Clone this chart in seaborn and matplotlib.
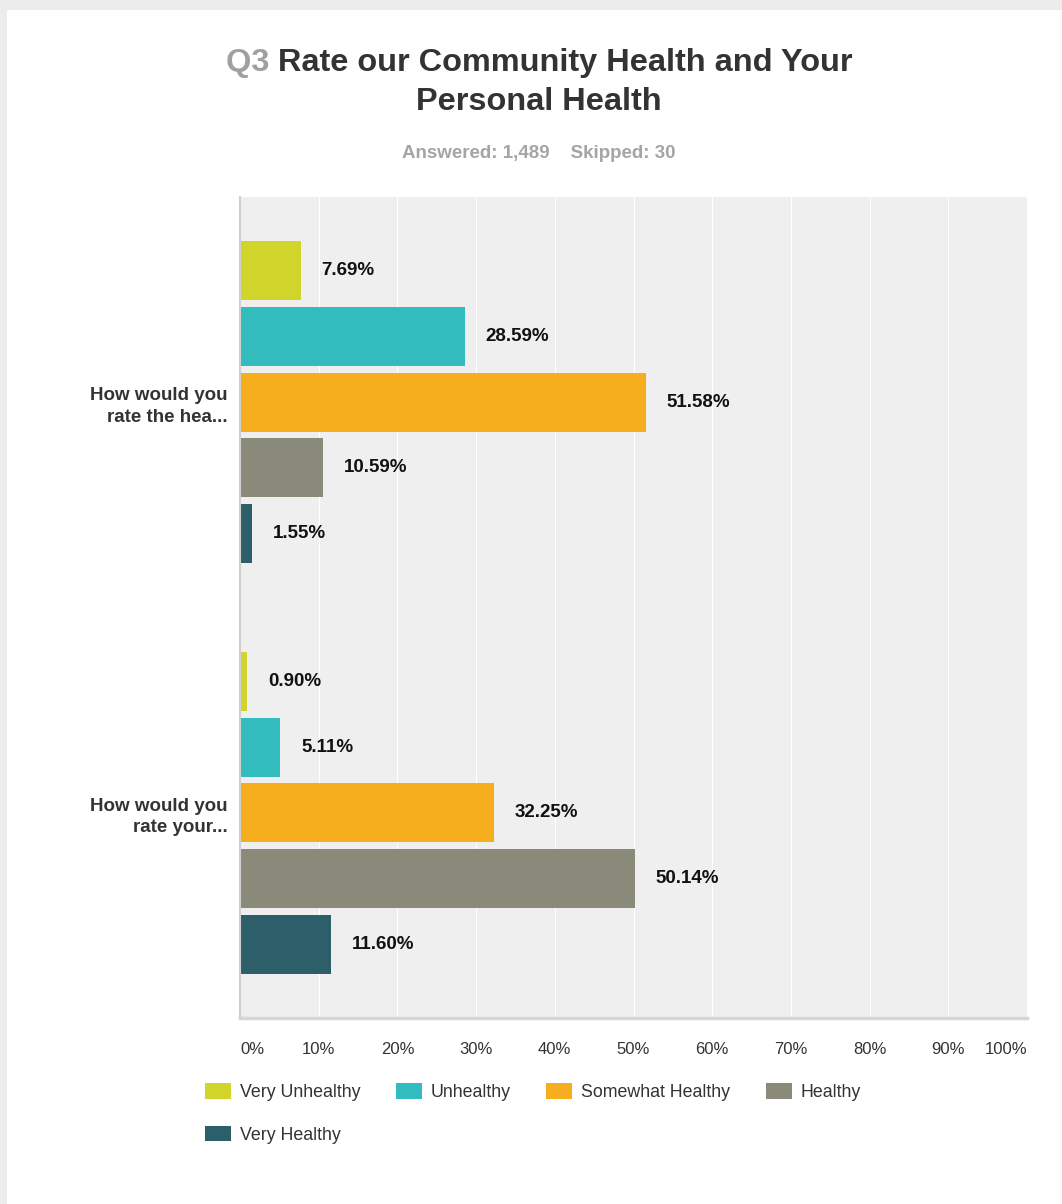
import pandas as pd
import matplotlib
matplotlib.use("Agg")
import matplotlib.pyplot as plt
from matplotlib.patches import Rectangle
import seaborn as sns

# chart data
questions = ["How would you\nrate the hea...", "How would you\nrate your..."]
answers = ["Very Unhealthy", "Unhealthy", "Somewhat Healthy", "Healthy", "Very Healthy"]
community_pct = [7.69, 28.59, 51.58, 10.59, 1.55]
personal_pct = [0.90, 5.11, 32.25, 50.14, 11.60]
x_ticks = [0, 10, 20, 30, 40, 50, 60, 70, 80, 90, 100]
colors = ["#d1d52b", "#32bcbe", "#f6ae1e", "#898a79", "#2d5f6b"]

df = pd.DataFrame({
    "question": [questions[0]] * 5 + [questions[1]] * 5,
    "answer": answers * 2,
    "pct": community_pct + personal_pct,
})

sns.set_style("whitegrid", rc={
    "axes.facecolor": "#efefef",
    "grid.color": "white",
    "grid.linewidth": 2,
    "axes.edgecolor": "#d4d4d4",
})
plt.rcParams["font.family"] = ["Liberation Sans", "DejaVu Sans"]

W, H = 1062, 1204
fig = plt.figure(figsize=(W / 100, H / 100), dpi=100, facecolor="#ececec")
# white card
fig.patches.append(Rectangle((7 / W, 0), 1, 1 - 10 / H, transform=fig.transFigure,
                             facecolor="white", edgecolor="none", zorder=-10))

ax = fig.add_axes([240 / W, 1 - 1018 / H, (1027 - 240) / W, (1018 - 197) / H])
sns.barplot(data=df, y="question", x="pct", hue="answer", hue_order=answers,
            palette=colors, orient="h", width=0.8, gap=0.1, linewidth=0,
            ax=ax, saturation=1)

ax.set_xlim(0, 100)
ax.set_ylim(1.5, -0.5)
ax.set_xlabel("")
ax.set_ylabel("")
ax.grid(axis="y", visible=False)
ax.grid(axis="x", visible=True)
ax.set_axisbelow(True)
for s in ["top", "right"]:
    ax.spines[s].set_visible(False)
ax.spines["left"].set_color("#d0d0d0")
ax.spines["left"].set_linewidth(1.5)
ax.spines["bottom"].set_color("#d6d6d6")
ax.spines["bottom"].set_linewidth(2.5)

ax.set_xticks(x_ticks)
ax.set_xticklabels([f"{t}%" for t in x_ticks], fontsize=12, color="#333333")
tl = ax.get_xticklabels()
tl[0].set_ha("left")
tl[-1].set_ha("right")
ax.tick_params(axis="x", length=0, pad=17.5)
ax.tick_params(axis="y", length=0, pad=9)
for lab in ax.get_yticklabels():
    lab.set_fontsize(13.5)
    lab.set_fontweight("bold")
    lab.set_color("#333333")
    lab.set_multialignment("right")
    lab.set_linespacing(1.35)

# value labels
for cont in ax.containers:
    for bar in cont:
        w = bar.get_width()
        yc = bar.get_y() + bar.get_height() / 2
        ax.annotate(f"{w:.2f}%", xy=(w, yc), xytext=(15, 0), textcoords="offset points",
                    ha="left", va="center", fontsize=13.5, fontweight="bold", color="#111111")

# legend, reordered so the columns fill row by row
handles, labels = ax.get_legend_handles_labels()
ax.legend_.remove()
order = [0, 4, 1, 2, 3]
fig.legend([handles[i] for i in order], [labels[i] for i in order], ncol=4, loc="upper left",
           bbox_to_anchor=(205 / W, 1 - 1083 / H), frameon=False,
           fontsize=12.8, handlelength=1.46, handleheight=1.0, handletextpad=0.5,
           columnspacing=2.0, labelspacing=1.38, borderpad=0, borderaxespad=0,
           labelcolor="#333333")

# title
cx = 539 / W
title_size = 23.4
rest = "Rate our Community Health and Your"
full = "Q3 " + rest
renderer = fig.canvas.get_renderer()
tmp = fig.text(0, 0, full, fontsize=title_size, fontweight="bold")
full_w = tmp.get_window_extent(renderer).width / W
tmp.remove()
q3 = fig.text(cx - full_w / 2, 1 - 63 / H, "Q3 ", fontsize=title_size, fontweight="bold",
              color="#a0a0a0", ha="left", va="center")
fig.canvas.draw()
q3_w = q3.get_window_extent(renderer).width / W
fig.text(cx - full_w / 2 + q3_w, 1 - 63 / H, rest, fontsize=title_size, fontweight="bold",
         color="#333333", ha="left", va="center")
fig.text(cx, 1 - 102 / H, "Personal Health", fontsize=title_size, fontweight="bold",
         color="#333333", ha="center", va="center")
fig.text(cx, 1 - 154 / H, "Answered: 1,489    Skipped: 30", fontsize=13.5, fontweight="bold",
         color="#a5a5a5", ha="center", va="center")

fig.savefig("out.png", dpi=100, facecolor=fig.get_facecolor())
